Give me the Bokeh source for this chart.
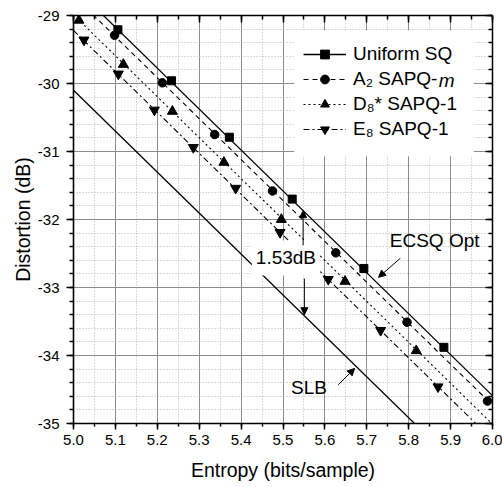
from bokeh.plotting import figure
from bokeh.models import (Range1d, SingleIntervalTicker, LinearAxis, NumeralTickFormatter,
                          CustomJSTickFormatter, Label, Arrow, NormalHead, Legend, LegendItem,
                          BoxAnnotation)
from bokeh.embed import file_html
from bokeh.resources import INLINE

FONT = "Liberation Sans"

# ---- data ----
usq_h = [5.106, 5.234, 5.372, 5.522, 5.693, 5.884]
usq_d = [-29.21, -29.96, -30.79, -31.70, -32.72, -33.88]

a2_h = [5.098, 5.212, 5.337, 5.475, 5.626, 5.796, 5.988]
a2_d = [-29.29, -29.99, -30.75, -31.58, -32.49, -33.51, -34.67]

d8_h = [5.013, 5.119, 5.236, 5.359, 5.496, 5.648, 5.818]
d8_d = [-29.07, -29.72, -30.41, -31.16, -32.00, -32.91, -33.93]

e8_h = [5.025, 5.107, 5.193, 5.286, 5.387, 5.493, 5.608, 5.733, 5.870]
e8_d = [-29.36, -29.86, -30.39, -30.94, -31.54, -32.19, -32.88, -33.63, -34.46]

# straight reference lines (entropy end points, distortion at those points)
line_h = [5.0, 6.0]
ecsq_d = [-28.57, -34.59]
a2_line_d = [-28.71, -34.73]
d8_line_d = [-28.99, -35.01]
e8_line_d = [-29.22, -35.24]
slb_d = [-30.10, -36.12]

x_ticks_interval = 0.1
y_ticks_interval = 1

legend_labels = ["Uniform SQ", "A\u2082 SAPQ-", "D\u2088* SAPQ-1", "E\u2088 SAPQ-1"]
italic_suffix = ("m", 5.8715, -29.96)

# annotations: (text, x, y)
texts = [("1.53dB", 5.507, -32.566), ("ECSQ Opt", 5.862, -32.31), ("SLB", 5.562, -34.466)]
# arrows: (x_start, y_start, x_end, y_end)
arrows = [(5.548, -32.38, 5.548, -31.87),
          (5.551, -32.87, 5.551, -33.40),
          (5.780, -32.57, 5.728, -32.85),
          (5.632, -34.43, 5.671, -34.19)]

p = figure(width=502, height=487, x_range=Range1d(5.0, 6.0), y_range=Range1d(-35, -29),
           output_backend="svg", toolbar_location=None,
           min_border_left=73, min_border_right=10, min_border_top=15, min_border_bottom=64,
           x_axis_label="Entropy (bits/sample)", y_axis_label="Distortion (dB)")
p.outline_line_color = None
p.background_fill_color = "white"

xt = SingleIntervalTicker(interval=x_ticks_interval, num_minor_ticks=2)
yt = SingleIntervalTicker(interval=y_ticks_interval, num_minor_ticks=5)
p.xaxis.ticker = xt
p.yaxis.ticker = yt
p.xgrid.ticker = xt
p.ygrid.ticker = yt
p.xaxis.formatter = NumeralTickFormatter(format="0.0")
p.yaxis.formatter = NumeralTickFormatter(format="0")

for ax in (p.xaxis[0], p.yaxis[0]):
    ax.axis_line_width = 1.6
    ax.axis_line_color = "black"
    ax.major_tick_line_color = "black"
    ax.minor_tick_line_color = "black"
    ax.major_tick_line_width = 1.5
    ax.minor_tick_line_width = 1.5
    ax.major_tick_in = 0
    ax.minor_tick_in = 0
    ax.major_label_text_font = FONT
    ax.major_label_text_font_size = "15px"
    ax.major_label_text_color = "black"
    ax.axis_label_text_font = FONT
    ax.axis_label_text_font_size = "19.5px"
    ax.axis_label_text_font_style = "normal"
    ax.axis_label_text_color = "black"

p.xaxis.major_tick_out = 6
p.xaxis.minor_tick_out = 3
p.xaxis.major_label_standoff = 5
p.xaxis.axis_label_standoff = 11
p.yaxis.major_tick_out = 7
p.yaxis.minor_tick_out = 4
p.yaxis.major_label_standoff = 7
p.yaxis.axis_label_standoff = 1

blank = CustomJSTickFormatter(code="return ''")
top = LinearAxis(ticker=xt, formatter=blank, major_tick_in=7, major_tick_out=0,
                 minor_tick_in=4, minor_tick_out=0, axis_line_width=1.5,
                 major_tick_line_width=1.5, minor_tick_line_width=1.5, major_label_standoff=0)
right = LinearAxis(ticker=yt, formatter=blank, major_tick_in=7, major_tick_out=0,
                   minor_tick_in=4, minor_tick_out=0, axis_line_width=1.5,
                   major_tick_line_width=1.5, minor_tick_line_width=1.5, major_label_standoff=0)
p.add_layout(top, "above")
p.add_layout(right, "right")

for g in (p.xgrid[0], p.ygrid[0]):
    g.grid_line_color = "#8c8c8c"
    g.grid_line_width = 1
    g.minor_grid_line_color = "#b4b4b4"
    g.minor_grid_line_dash = "1 2"
    g.minor_grid_line_width = 1

# white area behind the legend (hides the grid like the original legend box)
p.add_layout(BoxAnnotation(left=5.527, right=5.955, top=-29.22, bottom=-31.07,
                           fill_color="white", fill_alpha=1.0, line_color=None,
                           level="underlay"))

# lines
r_ecsq = p.line(line_h, ecsq_d, line_color="black", line_width=1.3)
r_a2l = p.line(line_h, a2_line_d, line_color="black", line_width=1.1, line_dash="5 4")
r_d8l = p.line(line_h, d8_line_d, line_color="black", line_width=1.1, line_dash="2 3")
r_e8l = p.line(line_h, e8_line_d, line_color="black", line_width=1.1, line_dash="6 3 2 3")
r_slb = p.line(line_h, slb_d, line_color="black", line_width=1.3)

r_usq = p.scatter(usq_h, usq_d, marker="square", size=8, fill_color="black", line_color="black")
r_a2 = p.scatter(a2_h, a2_d, marker="circle", size=8.5, fill_color="black", line_color="black")
r_d8 = p.scatter(d8_h, d8_d, marker="triangle", size=10, fill_color="black", line_color="black")
r_e8 = p.scatter(e8_h, e8_d, marker="inverted_triangle", size=10, fill_color="black", line_color="black")

items = [LegendItem(label=legend_labels[0], renderers=[r_ecsq, r_usq]),
         LegendItem(label=legend_labels[1], renderers=[r_a2l, r_a2]),
         LegendItem(label=legend_labels[2], renderers=[r_d8l, r_d8]),
         LegendItem(label=legend_labels[3], renderers=[r_e8l, r_e8])]
legend = Legend(items=items, location=(230, 283), padding=10, spacing=3,
                label_height=22, glyph_height=22, glyph_width=43, label_standoff=7,
                label_text_font=FONT, label_text_font_size="19px", label_text_color="black",
                border_line_color=None, background_fill_alpha=0.0,
                margin=0)
p.add_layout(legend, "center")

p.add_layout(Label(x=italic_suffix[1], y=italic_suffix[2], text=italic_suffix[0],
                   text_align="left", text_baseline="middle", text_font=FONT,
                   text_font_size="19px", text_font_style="italic", text_color="black",
                   level="overlay"))

for (t, x, y) in texts:
    bg = "white" if t == "1.53dB" else None
    lab = Label(x=x, y=y, text=t, text_align="center", text_baseline="middle",
                text_font=FONT, text_font_size="19px", text_color="black",
                background_fill_color=bg, padding=(4, 7))
    p.add_layout(lab)

for (xs, ys, xe, ye) in arrows:
    p.add_layout(Arrow(end=NormalHead(size=7, fill_color="black", line_color="black", line_width=1),
                       x_start=xs, y_start=ys, x_end=xe, y_end=ye,
                       line_color="black", line_width=1))

open("out.html", "w").write(file_html(p, INLINE))
